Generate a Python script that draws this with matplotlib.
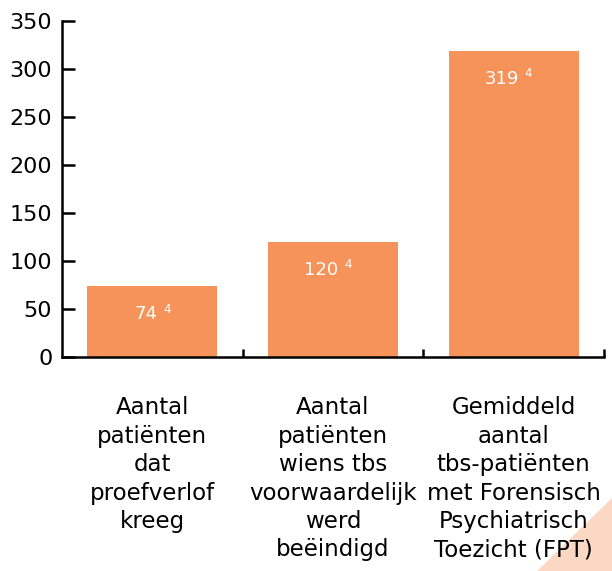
import matplotlib.pyplot as plt
import numpy as np
from matplotlib.patches import Polygon

categories = [
    "Aantal\npatiënten\ndat\nproefverlof\nkreeg",
    "Aantal\npatiënten\nwiens tbs\nvoorwaardelijk\nwerd\nbeëindigd",
    "Gemiddeld\naantal\ntbs-patiënten\nmet Forensisch\nPsychiatrisch\nToezicht (FPT)",
]
values = [74, 120, 319]
footnotes = ["4", "4", "4"]

bar_color = "#F5935A"

fig = plt.figure(figsize=(6.12, 5.71), dpi=100)

# corner decoration in the lower right, kept behind the axes
fig.patches.append(Polygon([[1.0, 1 - 498 / 571], [1.0, 0.0], [537 / 612, 0.0]],
                           closed=True, transform=fig.transFigure,
                           facecolor="#FBD8C4", edgecolor="none", zorder=-1))

ax = fig.add_axes([62 / 612, 1 - 357 / 571, 542 / 612, 336 / 571])
ax.set_zorder(1)
ax.patch.set_alpha(0)

x = np.arange(len(values))
ax.bar(x, values, width=0.72, color=bar_color, zorder=2)

ax.set_xlim(-0.5, len(values) - 0.5)
ax.set_ylim(0, 350)
ax.set_yticks(np.arange(0, 351, 50))
ax.tick_params(axis="y", direction="in", length=9, width=1.8, labelsize=16, pad=7)

ax.set_xticks(x + 0.5)
ax.set_xticklabels([])
ax.tick_params(axis="x", direction="in", length=6, width=1.8)
for xi, label in zip(x, categories):
    ax.text(xi, -41, label, ha="center", va="top", fontsize=16.5,
            linespacing=1.3, clip_on=False)

for side in ["top", "right"]:
    ax.spines[side].set_visible(False)
for side in ["left", "bottom"]:
    ax.spines[side].set_linewidth(1.8)

for xi, v, fn in zip(x, values, footnotes):
    ax.annotate(str(v), (xi, v), xytext=(4, -14), textcoords="offset points",
                ha="right", va="top", color="white", fontsize=13)
    ax.annotate(fn, (xi, v), xytext=(8, -12), textcoords="offset points",
                ha="left", va="top", color="white", fontsize=8.5)

fig.savefig("out.png", dpi=100)
